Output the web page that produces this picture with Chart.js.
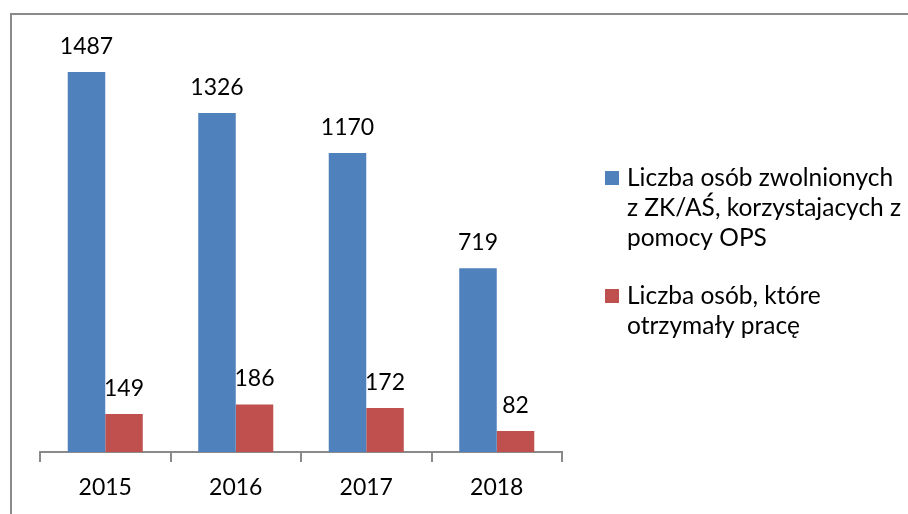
<!DOCTYPE html>
<html>
<head>
<meta charset="utf-8">
<script src="https://cdn.jsdelivr.net/npm/chart.js@4.4.1/dist/chart.umd.min.js"></script>
<style>
  html, body { margin: 0; padding: 0; background: #fff; overflow: hidden; }
  #wrap { position: relative; width: 908px; height: 514px; }
  #frame {
    position: absolute; left: 10px; top: 13px; width: 1000px; height: 1000px;
    border-top: 2px solid #8a8a8a; border-left: 2px solid #8a8a8a;
  }
  canvas { position: absolute; left: 0; top: 0; }
</style>
</head>
<body>
<div id="wrap">
  <div id="frame"></div>
  <canvas id="chart" width="908" height="514"></canvas>
</div>
<script>
// Data
const years = ['2015', '2016', '2017', '2018'];
const zwolnieni = [1487, 1326, 1170, 719];
const zatrudnieni = [149, 186, 172, 82];
const seriesLabels = [
  ['Liczba osób zwolnionych', 'z ZK/AŚ, korzystajacych z', 'pomocy OPS'],
  ['Liczba osób, które', 'otrzymały pracę']
];
const yMax = 1600;

const FONT = "Lato, 'Open Sans', sans-serif";

// value labels above bars
const valueLabels = {
  id: 'valueLabels',
  afterDatasetsDraw(chart) {
    const ctx = chart.ctx;
    ctx.save();
    ctx.font = '23px ' + FONT;
    ctx.fillStyle = '#000';
    ctx.textAlign = 'center';
    ctx.textBaseline = 'alphabetic';
    chart.data.datasets.forEach((ds, i) => {
      chart.getDatasetMeta(i).data.forEach((bar, j) => {
        ctx.fillText(String(ds.data[j]), bar.x, bar.y - 18);
      });
    });
    ctx.restore();
  }
};

// legend on the right, wrapped lines
const sideLegend = {
  id: 'sideLegend',
  afterDraw(chart) {
    const ctx = chart.ctx;
    const x = 605, lineH = 30;
    let y = 171;
    ctx.save();
    ctx.font = '24.5px ' + FONT;
    ctx.textAlign = 'left';
    ctx.textBaseline = 'alphabetic';
    chart.data.datasets.forEach((ds, i) => {
      ctx.fillStyle = ds.backgroundColor;
      ctx.fillRect(x, y, 14, 14);
      ctx.fillStyle = '#000';
      seriesLabels[i].forEach((line, k) => {
        ctx.fillText(line, x + 22, y + 15 + k * lineH);
      });
      y += seriesLabels[i].length * lineH + 28;
    });
    ctx.restore();
  }
};

new Chart(document.getElementById('chart'), {
  type: 'bar',
  data: {
    labels: years,
    datasets: [
      { label: seriesLabels[0].join(' '), data: zwolnieni, backgroundColor: '#4F81BD' },
      { label: seriesLabels[1].join(' '), data: zatrudnieni, backgroundColor: '#C0504D' }
    ]
  },
  options: {
    responsive: false,
    animation: false,
    layout: { padding: { left: 40, right: 346, top: 43, bottom: 0 } },
    datasets: { bar: { categoryPercentage: 0.575, barPercentage: 1 } },
    plugins: { legend: { display: false }, tooltip: { enabled: false } },
    scales: {
      y: { display: false, min: 0, max: yMax },
      x: {
        afterFit(scale) { scale.height = 62; },
        border: { color: '#8a8a8a', width: 2 },
        grid: { drawOnChartArea: false, color: '#8a8a8a', lineWidth: 2, tickLength: 10, offset: true },
        ticks: { color: '#000', font: { family: FONT, size: 23 }, padding: 12 }
      }
    }
  },
  plugins: [valueLabels, sideLegend]
});
</script>
</body>
</html>
